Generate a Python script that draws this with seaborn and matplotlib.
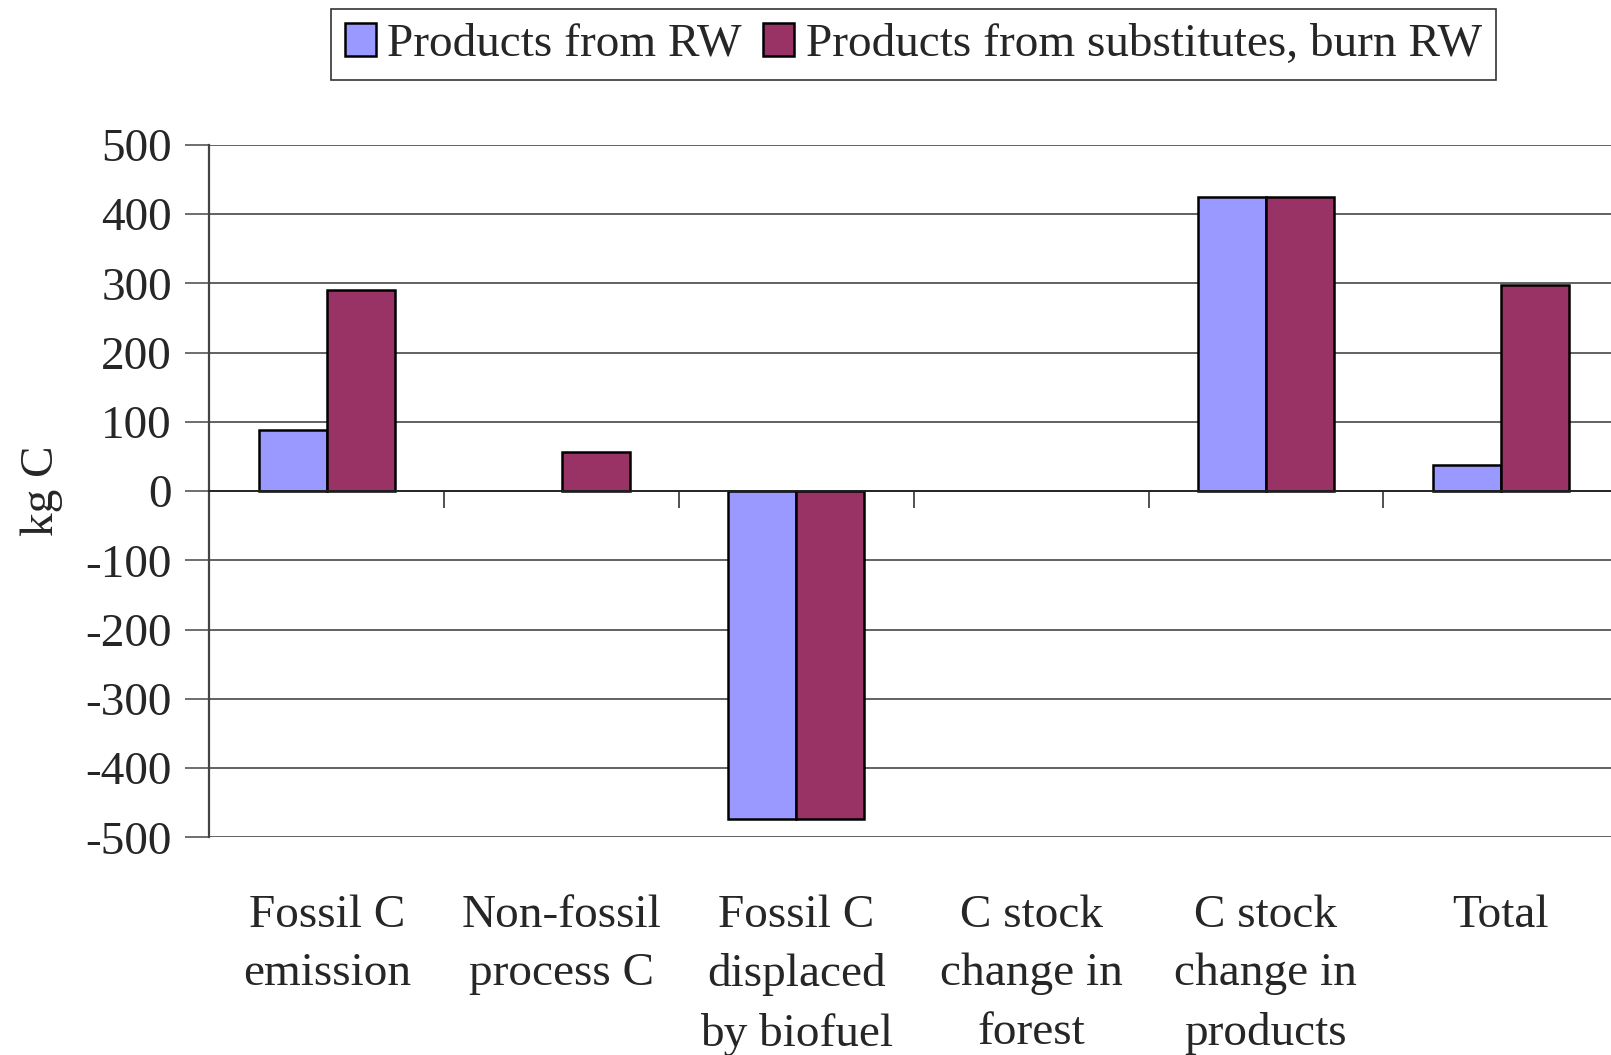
import matplotlib
matplotlib.use("Agg")
import matplotlib.pyplot as plt
import seaborn as sns
import pandas as pd

categories = [
    "Fossil C\nemission",
    "Non-fossil\nprocess C",
    "Fossil C\ndisplaced\nby biofuel",
    "C stock\nchange in\nforest",
    "C stock\nchange in\nproducts",
    "Total",
]
series_names = ["Products from RW", "Products from substitutes, burn RW"]
rw_values = [88, 0, -474, 0, 424, 38]
subst_values = [291, 57, -474, 0, 424, 298]
y_ticks = [500, 400, 300, 200, 100, 0, -100, -200, -300, -400, -500]
colors = ["#9999FF", "#993366"]

df = pd.DataFrame({
    "category": categories * 2,
    "series": [series_names[0]] * len(categories) + [series_names[1]] * len(categories),
    "value": rw_values + subst_values,
})

sns.set_theme(style="white")
plt.rcParams["font.family"] = ["Liberation Serif", "DejaVu Serif"]
FS = 34

fig = plt.figure(figsize=(16.11, 10.55), dpi=100)
ax = fig.add_axes([0.130, 0.2063, 0.870, 0.6564])

sns.barplot(data=df, x="category", y="value", hue="series", order=categories,
            hue_order=series_names, palette=colors, width=0.58,
            edgecolor="black", linewidth=1.8, saturation=1, ax=ax, legend=True)

for p in ax.patches:
    if abs(p.get_height()) < 1e-9:
        p.set_linewidth(0)

ax.set_ylim(-500, 500)
ax.set_xlim(-0.5, 5.47)
ax.set_yticks(y_ticks)
ax.set_yticklabels([str(t) for t in y_ticks], fontsize=FS)
ax.yaxis.grid(True, color="#555555", linewidth=1.3)
ax.set_axisbelow(True)

for s in ["top", "right"]:
    ax.spines[s].set_visible(False)
ax.spines["left"].set_color("#444444")
ax.spines["left"].set_linewidth(1.6)
ax.spines["bottom"].set_position(("data", 0))
ax.spines["bottom"].set_color("#222222")
ax.spines["bottom"].set_linewidth(1.3)

ax.tick_params(axis="y", direction="out", length=17, width=1.2, color="#555555",
               left=True, pad=10)
ax.set_xticks([i + 0.5 for i in range(5)])
ax.set_xticklabels([])
ax.tick_params(axis="x", direction="out", length=12, width=1.2, color="#333333",
               bottom=True)
ax.set_xlabel("")
ax.set_ylabel("kg C", fontsize=FS, labelpad=16)

for i, lab in enumerate(categories):
    ax.text(i, -0.082, lab, transform=ax.get_xaxis_transform(), ha="center",
            va="top", fontsize=FS, linespacing=1.5)

handles, labels = ax.get_legend_handles_labels()
ax.get_legend().remove()
leg = fig.legend(handles, labels, loc="center", bbox_to_anchor=(0.567, 0.958),
                 ncol=2, fontsize=FS, frameon=True, fancybox=False,
                 edgecolor="black", handlelength=0.65, handleheight=0.7,
                 handletextpad=0.25, columnspacing=0.45, borderpad=0.3,
                 borderaxespad=0)
leg.get_frame().set_linewidth(1.2)
for h in leg.legend_handles:
    h.set_edgecolor("black")
    h.set_linewidth(1.8)

fig.savefig("out.png", dpi=100, facecolor="white")
